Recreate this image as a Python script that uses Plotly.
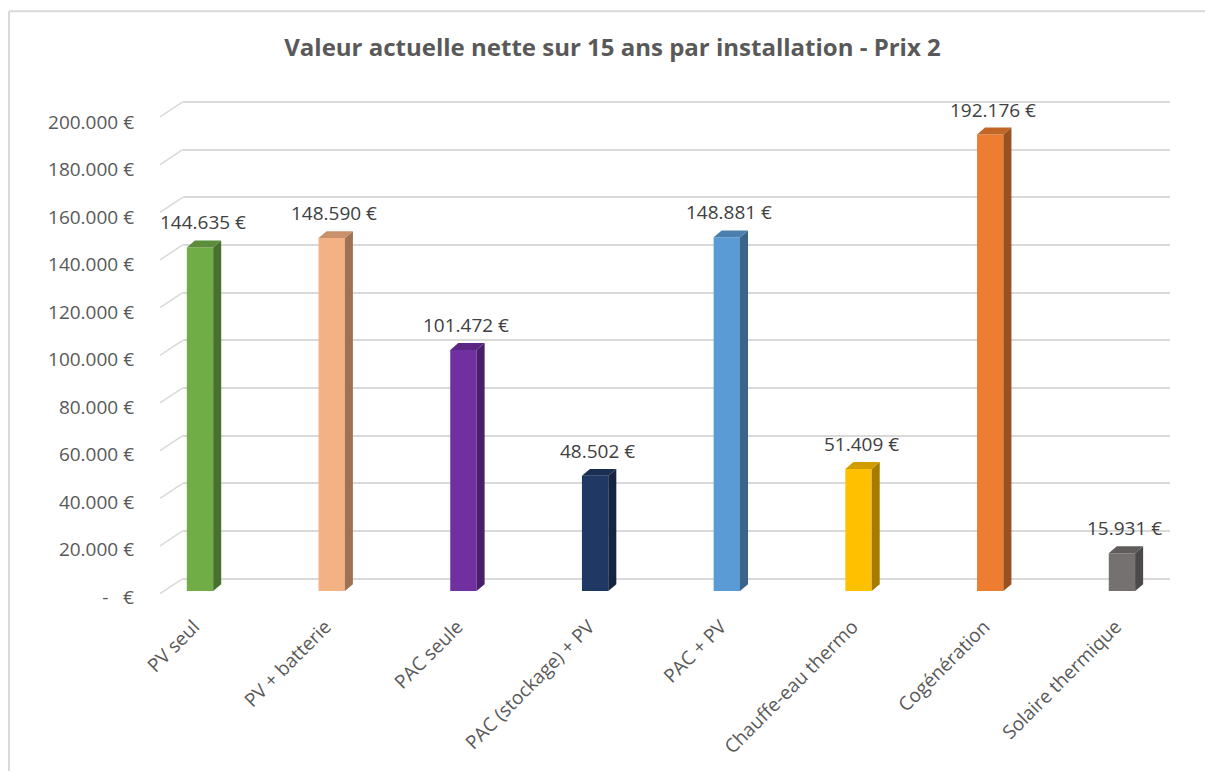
import plotly.graph_objects as go

# ---------------- data ----------------
categories = ["PV seul", "PV + batterie", "PAC seule", "PAC (stockage) + PV",
              "PAC + PV", "Chauffe-eau thermo", "Cogénération", "Solaire thermique"]
values = [144635, 148590, 101472, 48502, 148881, 51409, 192176, 15931]
colors = ["#70AD47", "#F4B183", "#7030A0", "#203864",
          "#5B9BD5", "#FFC000", "#ED7D31", "#767171"]
y_ticks = list(range(0, 200001, 20000))
title_text = "Valeur actuelle nette sur 15 ans par installation - Prix 2"


def eur(v):
    if v == 0:
        return "-\u00a0\u00a0\u00a0€"
    return f"{v:,}".replace(",", ".") + " €"


def shade(hex_color, f):
    h = hex_color.lstrip("#")
    r, g, b = (int(h[i:i + 2], 16) for i in (0, 2, 4))
    return "#%02x%02x%02x" % (int(r * f), int(g * f), int(b * f))


# ---------------- style constants ----------------
FONT = "Open Sans"
GRID = "#D9D9D9"
BAR_W = 0.2          # front face width (category units)
DEPTH_X = 0.061      # 3D depth, horizontal (category units)
DEPTH_Y = 2900       # 3D depth, vertical (value units)
BACK_SHIFT = 6300    # vertical shift between front and back wall (value units)

x_idx = list(range(len(categories)))

fig = go.Figure()

# invisible trace on back-wall axes (x, y) so the grid subplot exists
fig.add_trace(go.Scatter(x=[0, 1], y=[0, 0], mode="markers",
                         marker=dict(opacity=0), hoverinfo="skip",
                         showlegend=False, xaxis="x", yaxis="y"))

# front faces
fig.add_trace(go.Bar(x=x_idx, y=values, width=BAR_W,
                     marker=dict(color=colors, line=dict(width=0)),
                     xaxis="x2", yaxis="y2", showlegend=False, hoverinfo="skip"))

# side + top faces
for i, v, c in zip(x_idx, values, colors):
    xr = i + BAR_W / 2
    xl = i - BAR_W / 2
    fig.add_trace(go.Scatter(
        x=[xr, xr + DEPTH_X, xr + DEPTH_X, xr, xr],
        y=[0, DEPTH_Y, v + DEPTH_Y, v, 0],
        fill="toself", fillcolor=shade(c, 0.65), mode="lines",
        line=dict(width=0, color=shade(c, 0.65)),
        xaxis="x2", yaxis="y2", showlegend=False, hoverinfo="skip"))
    fig.add_trace(go.Scatter(
        x=[xl, xr, xr + DEPTH_X, xl + DEPTH_X, xl],
        y=[v, v, v + DEPTH_Y, v + DEPTH_Y, v],
        fill="toself", fillcolor=shade(c, 0.82), mode="lines",
        line=dict(width=0, color=shade(c, 0.82)),
        xaxis="x2", yaxis="y2", showlegend=False, hoverinfo="skip"))

# data labels
for i, v in zip(x_idx, values):
    fig.add_annotation(x=i + 0.02, y=v, xref="x2", yref="y2", text=eur(v),
                       showarrow=False, yshift=25, yanchor="middle",
                       font=dict(family=FONT, size=19, color="#404040"))

# diagonal connectors of the back wall grid (left side wall)
for t in y_ticks:
    fig.add_shape(type="line", xref="paper", yref="y",
                  x0=0, x1=0.0225, y0=t - BACK_SHIFT, y1=t,
                  line=dict(color=GRID, width=1.5), layer="below")

# chart border (top + left)
fig.add_shape(type="line", xref="paper", yref="paper", x0=-0.1495, x1=1.2,
              y0=1.1663, y1=1.1663, line=dict(color=GRID, width=2))
fig.add_shape(type="line", xref="paper", yref="paper", x0=-0.1495, x1=-0.1495,
              y0=-0.5, y1=1.1663, line=dict(color=GRID, width=2))

fig.update_layout(
    width=1205, height=771,
    margin=dict(l=160, r=35, t=95, b=171),
    paper_bgcolor="white", plot_bgcolor="rgba(0,0,0,0)",
    title=dict(text=f"<b>{title_text}</b>", x=0.5083, xref="container",
               y=1 - 48 / 771, yref="container", xanchor="center", yanchor="middle",
               font=dict(family=FONT, size=24, color="#595959")),
    xaxis=dict(domain=[0.0225, 1], range=[0, 1], visible=False, fixedrange=True),
    yaxis=dict(domain=[0, 1], range=[-8150, 202926], showgrid=True,
               gridcolor=GRID, gridwidth=1.5, zeroline=True, zerolinecolor=GRID,
               zerolinewidth=1.5, tickvals=y_ticks, showticklabels=False,
               ticks="", showline=False),
    xaxis2=dict(domain=[0, 1], anchor="y2", range=[-0.3037, 7.365],
                tickvals=x_idx, ticktext=categories, tickangle=-45,
                showgrid=False, zeroline=False, showline=False, ticks="",
                ticklabelstandoff=13, ticklabelshift=-6,
                tickfont=dict(family=FONT, size=19, color="#595959")),
    yaxis2=dict(domain=[0, 1], anchor="x2", range=[-2935, 208805],
                tickvals=y_ticks, ticktext=[eur(t) for t in y_ticks],
                showgrid=False, zeroline=False, showline=False, ticks="",
                ticklabelstandoff=25, ticklabelshift=6,
                tickfont=dict(family=FONT, size=19, color="#595959")),
)

fig.write_html("out.html", config={"displayModeBar": False},
               post_script="document.body.style.margin='0';document.body.style.overflow='hidden';")
